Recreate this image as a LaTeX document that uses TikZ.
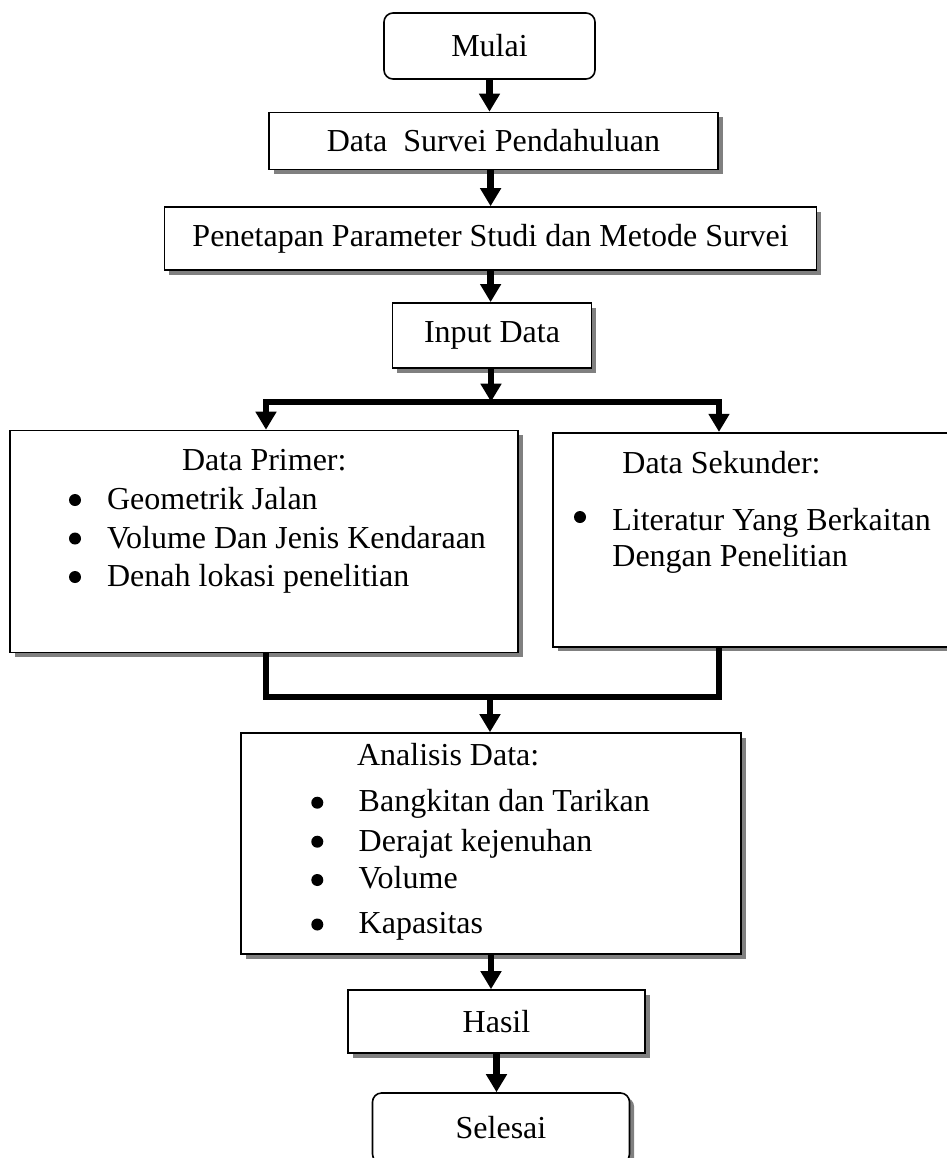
\documentclass[tikz,border=0pt]{standalone}
\usepackage{fontspec}
\setmainfont{Liberation Serif}
\usetikzlibrary{arrows.meta,shadows}

\begin{document}
\begin{tikzpicture}[x=0.5pt,y=-0.5pt,
        font=\fontsize{16}{19}\selectfont,
        box/.style={draw,line width=0.8pt,fill=white,inner sep=0pt,
            drop shadow={shadow xshift=2.3pt,shadow yshift=-2.3pt,fill=gray,opacity=1}},
        term/.style={draw,line width=0.8pt,fill=white,inner sep=0pt,rounded corners=4.5pt},
        flow/.style={line width=3.2pt,-{Triangle[width=10pt,length=9pt]}},
        bar/.style={line width=3.2pt},
        item/.style={anchor=base west,inner sep=0pt},
        dot/.style={circle,fill,inner sep=0pt,minimum size=6pt}]
        \useasboundingbox (0,0) rectangle (947,1158);
        \clip (0,0) rectangle (947,1158);

        % main column
        \node[term,minimum width=105.5pt,minimum height=33pt] (mulai) at (489.5,46) {Mulai};
        \node[box,minimum width=224.5pt,minimum height=28.5pt] (survei) at (493.5,141)
            {Data\ \ Survei Pendahuluan};
        \node[box,minimum width=326pt,minimum height=31.5pt] (penetapan) at (490.6,238.5)
            {Penetapan Parameter Studi dan Metode Survei};
        \node[box,minimum width=99.5pt,minimum height=32.5pt] (input) at (492,335.4) {Input Data};

        % the two data boxes
        \node[box,minimum width=254pt,minimum height=111pt] (primer) at (264,541.5) {};
        \node[box,minimum width=211pt,minimum height=107pt] (sekunder) at (764,539.7) {};

        \node[item] (ptitle) at (181.7,470) {Data Primer:};
        \node[dot] (pd1) at (75,500) {};
        \node[item] (pi1) at (106.7,509.3) {Geometrik Jalan};
        \node[dot] (pd2) at (75,538.5) {};
        \node[item] (pi2) at (106.7,548.3) {Volume Dan Jenis Kendaraan};
        \node[dot] (pd3) at (75,577) {};
        \node[item] (pi3) at (106.7,586.7) {Denah lokasi penelitian};

        \node[item] (stitle) at (622,473) {Data Sekunder:};
        \node[dot] (sd1) at (580,517) {};
        \node[item] (si1) at (612,530) {Literatur Yang Berkaitan};
        \node[item] (si2) at (612,566.7) {Dengan Penelitian};

        % analysis and end
        \node[box,minimum width=250pt,minimum height=110.5pt] (analisis) at (491,843.5) {};
        \node[item] (atitle) at (356.7,765) {Analisis Data:};
        \node[dot] (ad1) at (317.3,802.7) {};
        \node[item] (ai1) at (358.3,811.7) {Bangkitan dan Tarikan};
        \node[dot] (ad2) at (317.3,841.7) {};
        \node[item] (ai2) at (358.3,851.7) {Derajat kejenuhan};
        \node[dot] (ad3) at (317.3,880) {};
        \node[item] (ai3) at (358.3,888.3) {Volume};
        \node[dot] (ad4) at (317.3,924.5) {};
        \node[item] (ai4) at (358.3,933.3) {Kapasitas};

        \node[box,minimum width=148.5pt,minimum height=31.5pt] (hasil) at (496.5,1021.5) {Hasil};
        \node[term,minimum width=128.5pt,minimum height=35pt,
            drop shadow={shadow xshift=2.3pt,shadow yshift=-2.3pt,fill=gray,opacity=1}]
            (selesai) at (501,1128) {Selesai};

        % connectors
        \coordinate (split) at (491,401.7);
        \coordinate (bl) at (266,401.7);
        \coordinate (br) at (719,401.7);
        \coordinate (merge) at (490,697);

        \draw[flow] (mulai.south) -- (mulai.south |- survei.north);
        \draw[flow] (penetapan.north |- survei.south) -- (penetapan.north);
        \draw[flow] (penetapan.south) -- (penetapan.south |- input.north);
        \draw[flow] (input.south -| split) -- (split);
        \draw[flow] (split) -- (bl) -- (bl |- primer.north);
        \draw[flow] (split) -- (br) -- (br |- sekunder.north);
        \draw[bar] (primer.south -| bl) -- (bl |- merge) -- (br |- merge) -- (sekunder.south -| br);
        \draw[flow] (merge) -- (merge |- analisis.north);
        \draw[flow] (analisis.south) -- (analisis.south |- hasil.north);
        \draw[flow] (hasil.south) -- (hasil.south |- selesai.north);
    \end{tikzpicture}
\end{document}
